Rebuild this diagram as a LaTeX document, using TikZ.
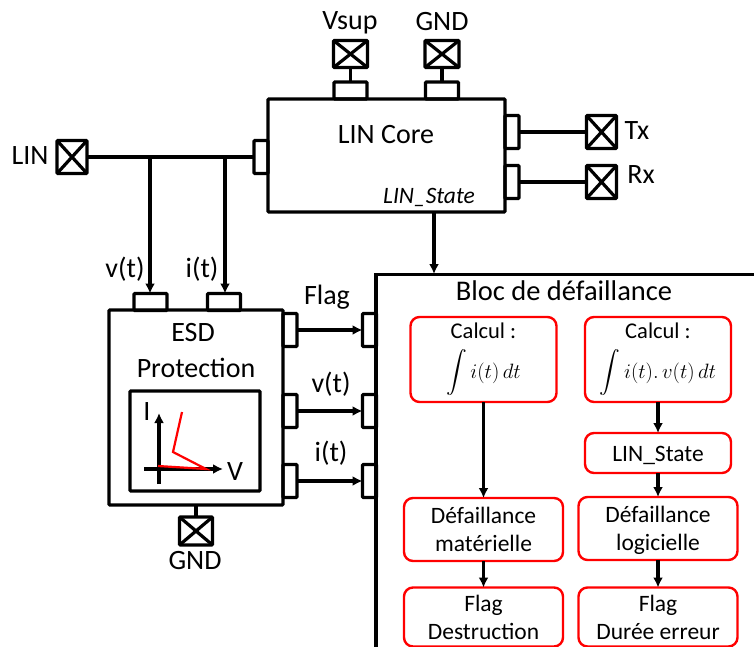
\documentclass[tikz,border=0pt]{standalone}
\usepackage{amsmath}
\usepackage{fontspec}
\setmainfont{Carlito}
\usetikzlibrary{arrows.meta}
\begin{document}
\begin{tikzpicture}[x=1pt,y=-1pt,line width=3.2pt,
    lbl/.style={font=\fontsize{28}{32}\selectfont,inner sep=0pt},
    blockbox/.style={draw,rounded corners=1pt,outer sep=0pt,inner sep=0pt},
    porth/.style={blockbox,minimum width=33pt,minimum height=17pt},
    portv/.style={blockbox,minimum width=14pt,minimum height=33pt},
    padbox/.style={blockbox,minimum width=30pt,minimum height=33pt,
      path picture={\draw (path picture bounding box.north west) -- (path picture bounding box.south east)
        (path picture bounding box.north east) -- (path picture bounding box.south west);}},
    padwide/.style={padbox,minimum width=34pt,minimum height=27pt},
    redbox/.style={draw=red,line width=2.4pt,rounded corners=9pt,outer sep=0pt,inner sep=0pt,
      text=black,minimum width=159pt,font=\fontsize{23.5}{28}\selectfont,align=center},
    calcbox/.style={redbox,minimum width=146pt,minimum height=85pt,font=\fontsize{22.5}{26}\selectfont},
    sigarrow/.style={-{Latex[length=10pt,width=10pt]}}]
  \useasboundingbox (0,0) rectangle (754,647);
  \node[blockbox,minimum width=237pt,minimum height=113pt] (core) at (386.5,155.5) {};
  \node[lbl] (corelbl) at (386,135) {LIN Core};
  \node[font=\fontsize{23.5}{27}\selectfont\itshape,inner sep=0pt] (statelbl) at (429,197) {LIN\_State};
  \node[porth] (vsupport) at (350.5,90.5) {};
  \node[porth] (gndport) at (442,90.5) {};
  \node[portv] (linport) at (261,157) {};
  \node[portv] (txport) at (512,132) {};
  \node[portv] (rxport) at (512,182) {};
  \node[padwide] (vsuppad) at (350.5,54) {};
  \node[padwide] (gndpad) at (442,54) {};
  \node[padbox] (linpad) at (72,157) {};
  \node[padbox] (txpad) at (601.5,132) {};
  \node[padbox] (rxpad) at (601.5,182) {};
  \node[lbl] (vsuplbl) at (350,23) {Vsup};
  \node[lbl] (gndlbl) at (442,22) {GND};
  \node[lbl] (linlbl) at (30,156) {LIN};
  \node[lbl] (txlbl) at (637,131) {Tx};
  \node[lbl] (rxlbl) at (641,175) {Rx};
  \draw (vsuppad) -- (vsupport);
  \draw (gndpad) -- (gndport);
  \draw (linpad) -- (linport);
  \draw (txport) -- (txpad);
  \draw (rxport) -- (rxpad);

  \node[blockbox,minimum width=174pt,minimum height=195pt] (esd) at (196,407.5) {};
  \node[lbl] (esdlbl) at (193,333) {ESD};
  \node[lbl] (protlbl) at (196,368) {Protection};
  \node[porth] (vport) at (150.5,302) {};
  \node[porth] (iport) at (224,302) {};
  \coordinate (vtap) at (150,157);
  \coordinate (itap) at (225,157);
  \draw[sigarrow] (vtap) -- (vtap |- vport.north);
  \draw[sigarrow] (itap) -- (itap |- iport.north);
  \node[lbl] (vlbl) at (125,269) {v(t)};
  \node[lbl] (ilbl) at (202,269) {i(t)};

  \node[blockbox,minimum width=130pt,minimum height=100pt] (curve) at (195,441) {};
  \coordinate (itop) at (159,413);
  \coordinate (ibot) at (159,484);
  \coordinate (vleft) at (144,469);
  \coordinate (vright) at (223,469);
  \draw[sigarrow] (ibot) -- (itop);
  \draw[sigarrow] (vleft) -- (vright);
  \draw[red,line width=2.2pt] (182,412) -- (173,452) -- (206,469) -- (158,466);
  \node[lbl] (iaxis) at (147,412) {I};
  \node[lbl] (vaxis) at (235,472) {V};

  \node[padwide,minimum width=33pt,minimum height=28pt] (esdpad) at (196,531) {};
  \node[lbl] (esdgnd) at (195,561) {GND};
  \draw (esd) -- (esdpad);

  \draw (754,274.5) -- (376,274.5) -- (376,647);
  \coordinate (statefrom) at (434,212);
  \coordinate (stateto) at (434,274);
  \draw[sigarrow] (statefrom) -- (stateto);
  \node[font=\fontsize{28.5}{32}\selectfont,inner sep=0pt] (bloclbl) at (564,291) {Bloc de défaillance};

  \node[portv] (flagout) at (290,330) {};
  \node[portv] (vout) at (290,411) {};
  \node[portv] (iout) at (290,481) {};
  \node[portv] (flagin) at (369.5,330) {};
  \node[portv] (vin) at (369.5,411) {};
  \node[portv] (iin) at (369.5,481) {};
  \draw[sigarrow] (flagout) -- (flagin);
  \draw[sigarrow] (vout) -- (vin);
  \draw[sigarrow] (iout) -- (iin);
  \node[lbl] (flaglbl) at (327,297) {Flag};
  \node[lbl] (voutlbl) at (331,384) {v(t)};
  \node[lbl] (ioutlbl) at (331,453) {i(t)};

  \node[calcbox] (calcone) at (483.5,359.5) {Calcul :\\[10pt]{\fontsize{20}{24}\selectfont$\displaystyle\int i(t)\,dt$}};
  \node[calcbox] (calctwo) at (658,359.5) {Calcul :\\[10pt]{\fontsize{20}{24}\selectfont$\displaystyle\int i(t).\,v(t)\,dt$}};
  \node[redbox,minimum width=146pt,minimum height=40pt] (linstate) at (658,453) {\vphantom{É}LIN\_State};
  \node[redbox,minimum height=63pt] (defone) at (483.5,529.5) {Défaillance\\matérielle};
  \node[redbox,minimum height=63pt] (deftwo) at (658,528.5) {\vphantom{É}Défaillance\\logicielle};
  \node[redbox,minimum height=59pt] (flagone) at (483.5,617) {Flag\\Destruction};
  \node[redbox,minimum height=59pt] (flagtwo) at (658,617) {Flag\\Durée erreur};
  \draw[sigarrow] (calcone) -- (defone);
  \draw[sigarrow] (defone) -- (flagone);
  \draw[sigarrow] (calctwo) -- (linstate);
  \draw[sigarrow] (linstate) -- (deftwo);
  \draw[sigarrow] (deftwo) -- (flagtwo);
\end{tikzpicture}
\end{document}
